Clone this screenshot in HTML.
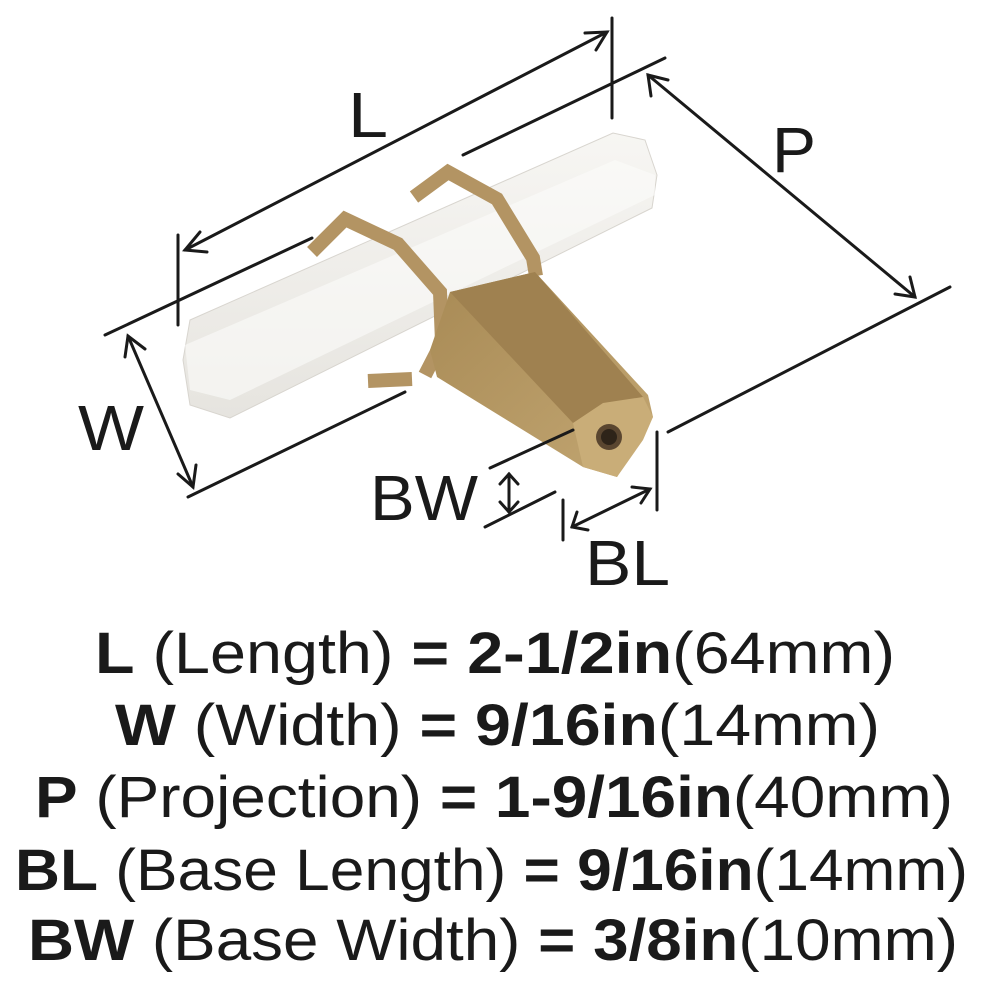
<!DOCTYPE html>
<html><head><meta charset="utf-8"><style>html,body{margin:0;padding:0;background:#fff}svg{display:block}</style></head>
<body>
<svg width="986" height="990" viewBox="0 0 986 990" xmlns="http://www.w3.org/2000/svg" font-family="Liberation Sans, sans-serif">
<rect width="986" height="990" fill="#fff"/>
<defs>
<linearGradient id="br" x1="0" y1="0" x2="1" y2="1"><stop offset="0" stop-color="#a88a55"/><stop offset="1" stop-color="#c2a672"/></linearGradient>
<linearGradient id="mb" x1="0" y1="0" x2="0" y2="1"><stop offset="0" stop-color="#f7f6f3"/><stop offset="1" stop-color="#e6e4df"/></linearGradient>
</defs>
<!-- marble bar -->
<polygon points="190,320 613,133 645,140 657,175 652,208 230,418 190,405 183,360" fill="url(#mb)" stroke="#d8d5cf" stroke-width="1"/>
<polygon points="185,345 615,160 655,175 655,195 230,400 190,390" fill="#fbfbfa" opacity="0.6"/>
<!-- collars -->
<g fill="none" stroke="#b39463" stroke-width="14" stroke-linejoin="miter">
<polyline points="312,252 345,219 398,244 440,292 442,342 425,375"/>
<polyline points="368,381 412,379"/>
<polyline points="414,197 448,172 497,199 533,258 536,276"/>
</g>
<!-- post -->
<polygon points="450,292 535,272 648,395 653,417 617,477 583,467 437,377 430,350" fill="url(#br)"/>
<polygon points="450,292 535,272 643,397 573,423" fill="#9f8150"/>
<polygon points="573,423 603,403 643,397 653,417 643,440 617,477 583,467" fill="#c9ad78"/>
<circle cx="609" cy="437" r="13" fill="#5a4630"/>
<circle cx="609" cy="437" r="8" fill="#2e2419"/>
<!-- dimension lines -->
<g stroke="#1a1a1a" stroke-width="3" fill="none" stroke-linecap="round">
<line x1="185" y1="250" x2="607" y2="32"/>
<polyline points="200,232 185,250 207,252"/>
<polyline points="585,33 607,32 596,50"/>
<line x1="178" y1="235" x2="178" y2="325"/>
<line x1="612" y1="18" x2="612" y2="118"/>
<line x1="105" y1="335" x2="312" y2="238"/>
<line x1="463" y1="155" x2="665" y2="58"/>
<line x1="648" y1="75" x2="915" y2="297"/>
<polyline points="651,96 648,75 668,80"/>
<polyline points="895,294 915,297 910,277"/>
<line x1="668" y1="432" x2="950" y2="287"/>
<line x1="128" y1="336" x2="193" y2="487"/>
<polyline points="125,357 128,336 145,349"/>
<polyline points="178,474 193,487 196,465"/>
<line x1="188" y1="497" x2="405" y2="392"/>
<line x1="490" y1="468" x2="573" y2="430"/>
<line x1="485" y1="527" x2="555" y2="492"/>
<line x1="509" y1="474" x2="509" y2="512"/>
<polyline points="500,484 509,474 518,484"/>
<polyline points="500,502 509,512 518,502"/>
<line x1="563" y1="500" x2="563" y2="540"/>
<line x1="657" y1="432" x2="657" y2="510"/>
<line x1="572" y1="527" x2="650" y2="489"/>
<polyline points="577,512 572,527 588,530"/>
<polyline points="632,487 650,489 641,503"/>
</g>
<g fill="#1a1a1a" font-size="64">
<text x="348" y="137" textLength="40" lengthAdjust="spacingAndGlyphs">L</text>
<text x="772" y="172" textLength="44" lengthAdjust="spacingAndGlyphs">P</text>
<text x="78" y="450" textLength="66" lengthAdjust="spacingAndGlyphs">W</text>
<text x="370" y="520" textLength="108" lengthAdjust="spacingAndGlyphs">BW</text>
<text x="585" y="585" textLength="85" lengthAdjust="spacingAndGlyphs">BL</text>
</g>
<g fill="#1a1a1a" font-size="58">
<text x="95" y="673" textLength="800" lengthAdjust="spacingAndGlyphs"><tspan font-weight="bold">L</tspan> (Length) <tspan font-weight="bold">= 2-1/2in</tspan>(64mm)</text>
<text x="115" y="745" textLength="765" lengthAdjust="spacingAndGlyphs"><tspan font-weight="bold">W</tspan> (Width) <tspan font-weight="bold">= 9/16in</tspan>(14mm)</text>
<text x="35" y="817" textLength="918" lengthAdjust="spacingAndGlyphs"><tspan font-weight="bold">P</tspan> (Projection) <tspan font-weight="bold">= 1-9/16in</tspan>(40mm)</text>
<text x="15" y="890" textLength="953" lengthAdjust="spacingAndGlyphs"><tspan font-weight="bold">BL</tspan> (Base Length) <tspan font-weight="bold">= 9/16in</tspan>(14mm)</text>
<text x="28" y="960" textLength="930" lengthAdjust="spacingAndGlyphs"><tspan font-weight="bold">BW</tspan> (Base Width) <tspan font-weight="bold">= 3/8in</tspan>(10mm)</text>
</g>
</svg>
</body></html>
